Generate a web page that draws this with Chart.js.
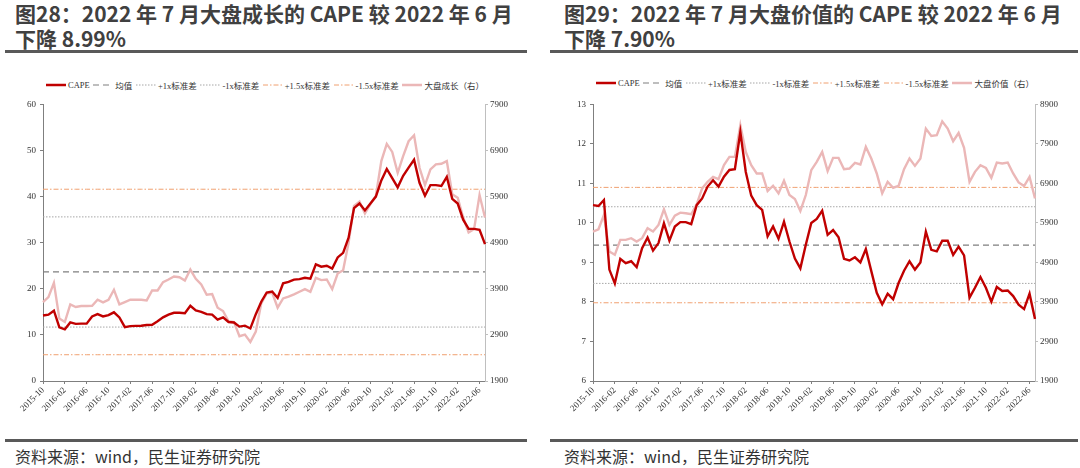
<!DOCTYPE html>
<html>
<head>
<meta charset="utf-8">
<script src="https://cdn.jsdelivr.net/npm/chart.js@4.4.1/dist/chart.umd.min.js"></script>
<style>
  body { margin: 0; background: #fff; }
  #page { position: relative; width: 1080px; height: 468px; overflow: hidden; background: #fff; }
  .title { position: absolute; top: 1px; font-family: "Noto Sans CJK SC", "Noto Sans", sans-serif; font-weight: bold; font-size: 21px; line-height: 25px; color: #404040; white-space: nowrap; }
  .rule { position: absolute; height: 3px; background: #595959; }
  .source { position: absolute; top: 444px; font-family: "Noto Sans CJK SC", sans-serif; font-size: 16px; color: #333; white-space: nowrap; }
  .box { position: absolute; top: 95px; width: 540px; height: 330px; }
  .legend { position: absolute; display: flex; justify-content: space-between; align-items: center; font-family: "Liberation Serif", "Noto Sans CJK SC", serif; font-size: 8.5px; color: #333; white-space: nowrap; }
  .legend span.item { display: flex; align-items: center; }
  .legend svg { margin-right: 2px; }
</style>
</head>
<body>
<div id="page">
  <div class="title" style="left:15px">图28：2022 年 7 月大盘成长的 CAPE 较 2022 年 6 月<br>下降 8.99%</div>
  <div class="title" style="left:564px">图29：2022 年 7 月大盘价值的 CAPE 较 2022 年 6 月<br>下降 7.90%</div>
  <div class="rule" style="left:5px; width:522px; top:50px"></div>
  <div class="rule" style="left:550px; width:528px; top:50px"></div>

  <div class="legend" id="legend1" style="left:46px; width:438px; top:79px"></div>
  <div class="legend" id="legend2" style="left:596px; width:438px; top:77px"></div>

  <div class="box" style="left:0"><canvas id="chart1"></canvas></div>
  <div class="box" style="left:540px"><canvas id="chart2"></canvas></div>

  <div class="rule" style="left:5px; width:522px; top:439px"></div>
  <div class="rule" style="left:550px; width:528px; top:439px"></div>
  <div class="source" style="left:15px">资料来源：wind，民生证券研究院</div>
  <div class="source" style="left:564px">资料来源：wind，民生证券研究院</div>
</div>

<script>
// months 2015-10 .. 2022-07
const months = [];
for (let y = 2015, m = 10; months.length < 82; m++) {
    if (m > 12) { m = 1; y++; }
    months.push(y + '-' + String(m).padStart(2, '0'));
}

// 图28 大盘成长
const growthCape = [
    14.2, 14.4, 15.25, 11.65, 11.2, 12.7, 12.4, 12.45, 12.45, 14.0,
    14.5, 14.0, 14.3, 14.9, 13.8, 11.7, 11.9, 11.95, 12.0, 12.15,
    12.2, 12.95, 13.8, 14.4, 14.8, 14.8, 14.7, 16.3, 15.3, 15.0,
    14.5, 14.4, 13.3, 13.8, 12.8, 12.7, 11.8, 12.0, 11.4, 14.5,
    17.2, 19.2, 19.4, 18.0, 21.2, 21.5, 22.0, 22.1, 22.4, 22.2,
    25.3, 24.8, 25.0, 24.4, 26.8, 27.8, 31.1, 37.5, 38.5, 37.0,
    38.5, 40.0, 43.5, 46.0, 44.0, 42.0, 44.5, 46.3, 48.0, 43.0,
    40.2, 42.5, 42.5, 42.3, 44.3, 39.5, 38.5, 35.0, 33.0, 33.0,
    32.8, 29.7
];
const growthIndex = [
    3612, 3720, 4030, 3253, 3180, 3562, 3505, 3526, 3526, 3533,
    3663, 3605, 3663, 3879, 3562, 3612, 3663, 3663, 3663, 3648,
    3864, 3864, 4043, 4101, 4166, 4151, 4080, 4317, 4116, 3993,
    3771, 3785, 3490, 3418, 3195, 3180, 2871, 2907, 2748, 2972,
    3585, 3800, 3815, 3490, 3692, 3728, 3778, 3836, 3894, 3836,
    4138, 4088, 4102, 3894, 4231, 4303, 4900, 5698, 5791, 5533,
    5735, 5914, 6669, 7043, 6870, 6417, 6777, 7101, 7230, 6525,
    6151, 6490, 6598, 6612, 6669, 5950, 5877, 5446, 5122, 5195,
    5935, 5446
];
// 均值, +1x, -1x, +1.5x, -1.5x
const growthBands = [23.65, 35.6, 11.7, 41.6, 5.7];

// 图29 大盘价值
const valueCape = [
    10.45, 10.43, 10.58, 8.82, 8.47, 9.09, 8.98, 9.03, 8.88, 9.36,
    9.63, 9.30, 9.49, 9.99, 9.55, 9.91, 10.02, 10.02, 9.97, 10.45,
    10.62, 10.92, 11.08, 10.92, 11.17, 11.34, 11.36, 12.30, 11.29, 10.69,
    10.45, 10.33, 9.66, 9.91, 9.60, 10.03, 9.53, 9.10, 8.85, 9.45,
    10.0, 10.1, 10.31, 9.70, 9.82, 9.64, 9.09, 9.05, 9.13, 9.0,
    9.34, 8.78, 8.23, 7.94, 8.21, 8.07, 8.48, 8.79, 9.03, 8.82,
    9.0, 9.78, 9.32, 9.28, 9.55, 9.55, 9.19, 9.40, 9.18, 8.11,
    8.36, 8.63, 8.36, 8.01, 8.38, 8.28, 8.29, 8.15, 7.93, 7.82,
    8.21, 7.57
];
const valueIndex = [
    5682, 5740, 6102, 5177, 5093, 5472, 5472, 5514, 5430, 5514,
    5766, 5682, 5850, 6245, 5850, 6085, 6161, 6144, 6119, 6371,
    6774, 6942, 7068, 7009, 7362, 7572, 7572, 8371, 7698, 7362,
    7152, 7152, 6707, 6841, 6648, 6967, 6606, 6505, 6203, 6606,
    7236, 7446, 7698, 7211, 7547, 7547, 7261, 7278, 7421, 7379,
    7824, 7530, 7152, 6648, 6942, 6791, 6841, 7261, 7530, 7345,
    7530, 8287, 8102, 8119, 8471, 8287, 7967, 8177, 7799, 6942,
    7194, 7362, 7295, 7043, 7429, 7404, 7429, 7152, 6925, 6833,
    7068, 6522
];
const valueBands = [9.44, 10.41, 8.47, 10.90, 7.98];

const red = '#c00000';
const pink = '#ebb7b7';
const bandNames = ['均值', '+1x标准差', '-1x标准差', '+1.5x标准差', '-1.5x标准差'];
const bandStyles = [
    { color: '#7f7f7f', dash: [6, 4], width: 1.2 },
    { color: '#a6a6a6', dash: [1.5, 1.5], width: 1 },
    { color: '#a6a6a6', dash: [1.5, 1.5], width: 1 },
    { color: '#f0a070', dash: [5, 2, 1.5, 2], width: 1 },
    { color: '#f0a070', dash: [5, 2, 1.5, 2], width: 1 }
];
const tickFont = { family: '"Liberation Serif", serif', size: 9 };

function makeLegend(id, rightName) {
    const el = document.getElementById(id);
    const items = [{ name: 'CAPE', color: red, dash: [], width: 2.5 }];
    bandNames.forEach((n, i) => items.push({ name: n, color: bandStyles[i].color, dash: bandStyles[i].dash, width: bandStyles[i].width }));
    items.push({ name: rightName, color: pink, dash: [], width: 2.5 });
    items.forEach(it => {
        const span = document.createElement('span');
        span.className = 'item';
        span.innerHTML = '<svg width="20" height="6"><line x1="0" y1="3" x2="20" y2="3" stroke="' + it.color +
            '" stroke-width="' + it.width + '" stroke-dasharray="' + it.dash.join(',') + '"/></svg>' + it.name;
        el.appendChild(span);
    });
}

function makeChart(id, cape, index, bands, yMin, yMax, yStep, rMin, rMax, leftW, rightW) {
    const datasets = [
        { data: cape, borderColor: red, borderWidth: 2.4, yAxisID: 'y', order: 0 },
        { data: index, borderColor: pink, borderWidth: 2.4, yAxisID: 'y2', order: 1 }
    ];
    bands.forEach((b, i) => {
        datasets.push({
            data: months.map(() => b),
            borderColor: bandStyles[i].color,
            borderDash: bandStyles[i].dash,
            borderWidth: bandStyles[i].width,
            yAxisID: 'y',
            order: 2
        });
    });
    return new Chart(document.getElementById(id), {
        type: 'line',
        data: { labels: months, datasets: datasets },
        options: {
            responsive: true,
            maintainAspectRatio: false,
            animation: false,
            elements: { point: { radius: 0 }, line: { tension: 0 } },
            layout: { padding: { top: 8, bottom: 0, left: 0, right: 0 } },
            plugins: { legend: { display: false }, tooltip: { enabled: false } },
            scales: {
                x: {
                    offset: false,
                    border: { color: '#7f7f7f' },
                    grid: {
                        drawOnChartArea: false,
                        tickLength: 3,
                        tickColor: (ctx) => ctx.index % 4 === 0 ? '#7f7f7f' : 'rgba(0,0,0,0)'
                    },
                    ticks: {
                        autoSkip: false,
                        maxRotation: 45,
                        minRotation: 45,
                        padding: 1,
                        font: tickFont,
                        color: '#333',
                        callback: function (v, i) { return i % 4 === 0 ? this.getLabelForValue(v) : ''; }
                    },
                    afterFit: (s) => { s.height = 44; }
                },
                y: {
                    position: 'left',
                    min: yMin, max: yMax,
                    border: { color: '#7f7f7f' },
                    grid: { drawOnChartArea: false, tickLength: 3, tickColor: '#7f7f7f' },
                    ticks: { stepSize: yStep, font: tickFont, color: '#333', padding: 4, callback: (v) => String(v) },
                    afterFit: (s) => { s.width = leftW; }
                },
                y2: {
                    position: 'right',
                    min: rMin, max: rMax,
                    border: { color: '#bfbfbf' },
                    grid: { drawOnChartArea: false, tickLength: 3, tickColor: '#bfbfbf' },
                    ticks: { stepSize: 1000, font: tickFont, color: '#333', padding: 2, callback: (v) => String(v) },
                    afterFit: (s) => { s.width = rightW; }
                }
            }
        }
    });
}

makeLegend('legend1', '大盘成长（右）');
makeLegend('legend2', '大盘价值（右）');
makeChart('chart1', growthCape, growthIndex, growthBands, 0, 60, 10, 1900, 7900, 43, 55);
makeChart('chart2', valueCape, valueIndex, valueBands, 6, 13, 1, 1900, 8900, 53, 45);
</script>
</body>
</html>
